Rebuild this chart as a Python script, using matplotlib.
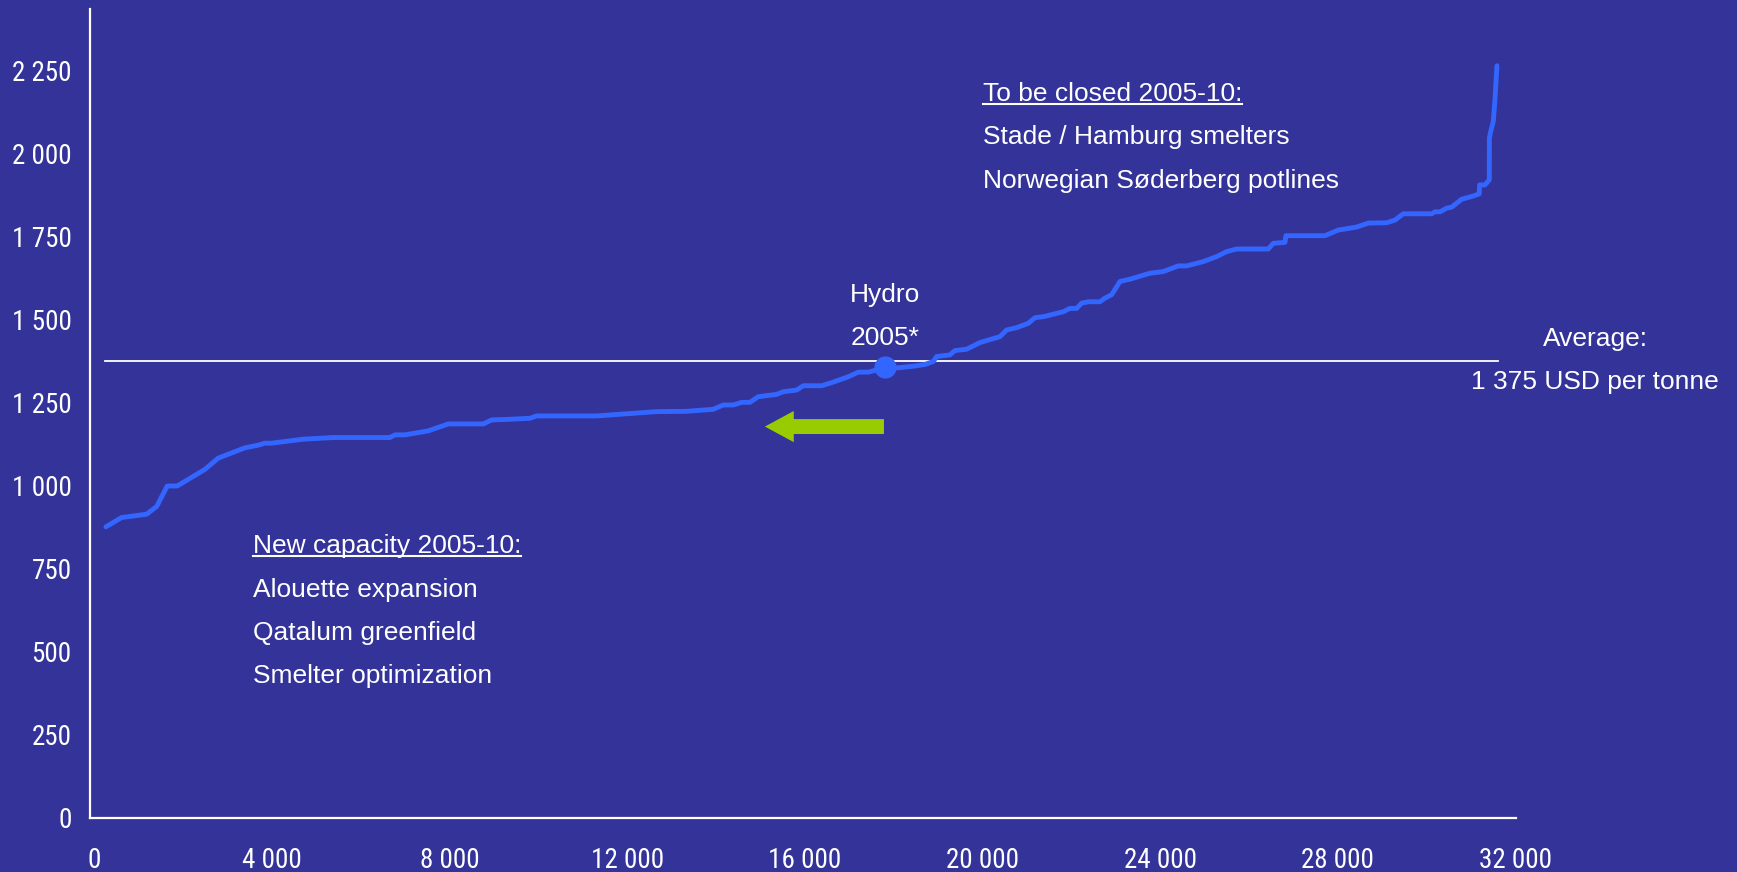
import matplotlib
matplotlib.use("Agg")
import matplotlib.pyplot as plt
from matplotlib import font_manager
from matplotlib.lines import Line2D
from matplotlib.patches import FancyArrow
from matplotlib.transforms import IdentityTransform

# ---------------- data ----------------
capacity_x = [266, 619, 1182, 1407, 1646, 1871, 2494, 2794, 3395, 3694, 3845, 3996,
              4707, 5383, 6659, 6772, 6997, 7521, 7972, 8760, 8949, 9361, 9811, 9962,
              11313, 12137, 12663, 13339, 13937, 14162, 14388, 14577, 14764, 14951,
              15365, 15514, 15815, 15964, 16378, 16640, 16976, 17202, 17427, 17803,
              18100, 18450, 18700, 18890, 18966, 19266, 19378, 19641, 19941, 20392,
              20542, 20767, 21029, 21180, 21367, 21818, 21968, 22118, 22231, 22380,
              22643, 22756, 22906, 23093, 23319, 23769, 24069, 24407, 24594, 24969,
              25270, 25495, 25720, 26432, 26545, 26808, 26830, 27709, 28008, 28422,
              28683, 29097, 29284, 29472, 30110, 30185, 30298, 30448, 30561, 30786,
              31011, 31182, 31190, 31310, 31407, 31410, 31439, 31497, 31535, 31580]
cost_y = [876, 904, 914, 937, 999, 999, 1049, 1083, 1114, 1122, 1128, 1128,
          1140, 1145, 1145, 1153, 1153, 1165, 1186, 1186, 1198, 1200, 1203, 1210,
          1210, 1218, 1223, 1224, 1230, 1243, 1243, 1251, 1251, 1268,
          1275, 1283, 1288, 1301, 1301, 1312, 1328, 1342, 1342, 1355,
          1355, 1360, 1365, 1374, 1389, 1394, 1407, 1411, 1431, 1449,
          1469, 1476, 1489, 1506, 1509, 1524, 1534, 1534, 1550, 1554,
          1554, 1565, 1575, 1615, 1622, 1640, 1645, 1662, 1662, 1675,
          1690, 1705, 1713, 1713, 1730, 1733, 1753, 1753, 1770, 1779,
          1791, 1792, 1800, 1819, 1819, 1825, 1825, 1836, 1839, 1863,
          1871, 1879, 1906, 1906, 1921, 2047, 2067, 2097, 2162, 2265]

average_value = 1375
average_span = [250, 31600]
hydro_x, hydro_y = 17800, 1356
arrow_from, arrow_to, arrow_y = 17780, 15100, 1178

x_ticks = [0, 4000, 8000, 12000, 16000, 20000, 24000, 28000, 32000]
x_tick_labels = ['0', '4 000', '8 000', '12 000', '16 000', '20 000', '24 000', '28 000', '32 000']
y_ticks = [0, 250, 500, 750, 1000, 1250, 1500, 1750, 2000, 2250]
y_tick_labels = ['0', '250', '500', '750', '1 000', '1 250', '1 500', '1 750', '2 000', '2 250']

closed_title = 'To be closed 2005-10:'
closed_items = ['Stade / Hamburg smelters', 'Norwegian Søderberg potlines']
new_title = 'New capacity 2005-10:'
new_items = ['Alouette expansion', 'Qatalum greenfield', 'Smelter optimization']
hydro_label = ['Hydro', '2005*']
average_label = ['Average:', '1 375 USD per tonne']

# ---------------- style ----------------
BG = '#333399'
LINE = '#3366FF'
GREEN = '#99CC00'
TXT = ['Liberation Sans', 'DejaVu Sans']

# pick a narrow sans font for tick labels if one is installed
names = {f.name for f in font_manager.fontManager.ttflist}
tick_font = dict(family=['Liberation Sans', 'DejaVu Sans'], fontsize=17.5)
for cand in ['Liberation Sans Narrow', 'Arial Narrow', 'Roboto Condensed',
             'Open Sans Condensed', 'Noto Sans Condensed']:
    if cand in names:
        tick_font = dict(family=[cand, 'DejaVu Sans'], fontsize=19.5)
        break

fig = plt.figure(figsize=(17.37, 8.72), dpi=100, facecolor=BG)
ax = fig.add_axes([0.05164, 0.06239, 0.8209, 0.9273])
ax.set_facecolor(BG)
ax.set_xlim(-100, 32000)
ax.set_ylim(0, 2436)

for s in ['top', 'right']:
    ax.spines[s].set_visible(False)
for s in ['left', 'bottom']:
    ax.spines[s].set_color('white')
    ax.spines[s].set_linewidth(1.6)

ax.set_xticks(x_ticks)
ax.set_xticklabels(x_tick_labels, color='white', **tick_font)
ax.set_yticks(y_ticks)
ax.set_yticklabels(y_tick_labels, color='white', **tick_font)
ax.tick_params(axis='x', length=0, pad=21)
ax.tick_params(axis='y', length=0, pad=13)

# average line
ax.plot(average_span, [average_value, average_value], color='white', lw=1.3, zorder=2)

# cost curve
ax.plot(capacity_x, cost_y, color=LINE, lw=3.5, solid_capstyle='round',
        solid_joinstyle='round', zorder=3)
ax.plot([hydro_x], [hydro_y], 'o', color=LINE, markersize=15, zorder=4)

# green arrow
ax.add_patch(FancyArrow(arrow_from, arrow_y, arrow_to - arrow_from, 0,
                        width=45, head_width=94, head_length=650,
                        length_includes_head=True, color=GREEN, lw=0, zorder=4))

fs = 19
ax.text(20000, 2158, closed_title, family=TXT, fontsize=fs, color='white', va='baseline', ha='left')
for i, t in enumerate(closed_items):
    ax.text(20000, 2028 - 130 * i, t, family=TXT, fontsize=fs, color='white', va='baseline', ha='left')

ax.text(3566, 796, new_title, family=TXT, fontsize=fs, color='white', va='baseline', ha='left')
for i, t in enumerate(new_items):
    ax.text(3566, 666 - 130.5 * i, t, family=TXT, fontsize=fs, color='white', va='baseline', ha='left')

ax.text(17803, 1553, hydro_label[0], family=TXT, fontsize=fs, color='white', va='baseline', ha='center')
ax.text(17803, 1424, hydro_label[1], family=TXT, fontsize=fs, color='white', va='baseline', ha='center')

ax.text(33790, 1420, average_label[0], family=TXT, fontsize=fs, color='white', va='baseline', ha='center', clip_on=False)
ax.text(33790, 1290, average_label[1], family=TXT, fontsize=fs, color='white', va='baseline', ha='center', clip_on=False)

# underlines for the two titles
fig.canvas.draw()
renderer = fig.canvas.get_renderer()
for txt in ax.texts:
    if txt.get_text() in (closed_title, new_title):
        bb = txt.get_window_extent(renderer)
        bx, by = ax.transData.transform(txt.get_position())
        yline = by - 3
        fig.add_artist(Line2D([bb.x0, bb.x1], [yline, yline], transform=IdentityTransform(),
                              color='white', lw=1.5))

fig.savefig('out.png', dpi=100, facecolor=BG)
